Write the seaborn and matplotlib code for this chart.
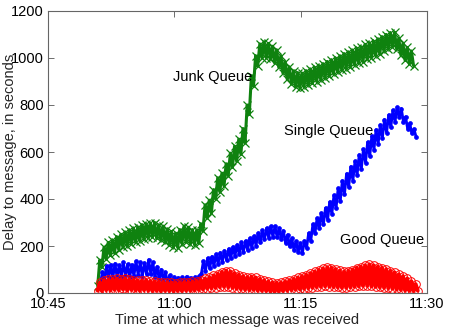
import numpy as np
import matplotlib
matplotlib.use("Agg")
import matplotlib.pyplot as plt
import seaborn as sns

# x in minutes after 10:45
tick_minutes = [0, 15, 30, 45]
tick_labels = ["10:45", "11:00", "11:15", "11:30"]
y_ticks = [0, 200, 400, 600, 800, 1000, 1200]

step = 0.25

junk_start = 5.9
junk_vals = [30, 140, 110, 195, 145, 215, 160, 225, 170, 240, 185, 250, 195, 258, 200, 268,
             210, 275, 215, 282, 222, 290, 228, 295, 235, 298, 238, 300, 232, 290, 225, 285,
             215, 272, 205, 262, 195, 255, 193, 270, 210, 285, 218, 280, 210, 270, 205, 268,
             212, 295, 265, 375, 320, 395, 340, 440, 400, 490, 430, 510, 455, 550, 500, 595,
             535, 625, 560, 655, 590, 700, 640, 800, 760, 925, 880, 1010, 965, 1060, 1000, 1068,
             1002, 1062, 995, 1050, 980, 1035, 960, 1010, 935, 985, 910, 962, 890, 945, 878, 938,
             872, 936, 878, 945, 885, 952, 892, 960, 900, 968, 908, 975, 915, 985, 924, 992,
             932, 1000, 940, 1008, 948, 1018, 955, 1025, 962, 1032, 970, 1042, 978, 1048, 985, 1058,
             995, 1065, 1002, 1072, 1010, 1080, 1018, 1090, 1028, 1100, 1040, 1108, 1048, 1110, 1038, 1085,
             1012, 1062, 990, 1045, 975, 1030, 968]

single_start = 6.2
single_vals = [30, 90, 55, 115, 62, 120, 65, 125, 68, 118, 70, 130, 72, 122, 66, 120,
               72, 135, 78, 130, 70, 128, 80, 142, 82, 130, 68, 112, 58, 100, 52, 88,
               42, 75, 38, 68, 34, 65, 32, 66, 35, 70, 34, 65, 33, 68, 36, 72,
               80, 135, 95, 148, 105, 155, 115, 165, 125, 172, 132, 180, 140, 188, 148, 196,
               158, 205, 166, 215, 175, 222, 183, 232, 192, 242, 202, 255, 215, 266, 228, 276,
               236, 284, 240, 284, 238, 276, 228, 265, 214, 248, 198, 232, 184, 220, 175, 212,
               170, 222, 192, 255, 222, 292, 255, 318, 275, 340, 292, 362, 312, 388, 336, 415,
               360, 445, 392, 478, 420, 508, 450, 538, 478, 560, 502, 588, 528, 612, 555, 642,
               582, 668, 610, 695, 635, 715, 660, 738, 682, 758, 705, 778, 728, 790, 748, 785,
               728, 750, 700, 722, 680, 698, 665]

good_start = 5.9
good_vals = [10, 45, 8, 55, 12, 58, 10, 60, 14, 62, 12, 58, 15, 63, 10, 60,
             13, 57, 11, 55, 9, 54, 12, 56, 10, 52, 8, 50, 10, 48, 7, 47,
             9, 46, 8, 45, 7, 44, 9, 46, 8, 47, 10, 48, 9, 50, 11, 52,
             13, 56, 15, 62, 18, 68, 20, 75, 22, 82, 25, 90, 26, 95, 24, 92,
             22, 85, 18, 78, 16, 72, 14, 68, 12, 70, 14, 66, 10, 60, 9, 55,
             8, 50, 6, 46, 5, 44, 6, 45, 8, 50, 10, 55, 12, 60, 14, 66,
             16, 72, 18, 78, 20, 85, 22, 92, 25, 98, 26, 105, 28, 110, 27, 108,
             25, 102, 24, 96, 22, 92, 22, 95, 24, 100, 26, 108, 28, 112, 30, 118,
             30, 122, 28, 118, 26, 112, 24, 108, 22, 102, 20, 95, 18, 88, 15, 80,
             13, 72, 11, 62, 9, 50, 8, 38, 10]

series_labels = ["Junk Queue", "Single Queue", "Good Queue"]
label_pos = [(14.85, 919), (28.0, 689), (34.68, 225)]

sns.set_style("ticks")
plt.rcParams["font.family"] = ["Liberation Sans", "DejaVu Sans"]
plt.rcParams["font.size"] = 10.5

fig = plt.figure(figsize=(4.5, 3.32), dpi=100)
ax = fig.add_axes([48 / 450, 1 - 293 / 332, (427 - 48) / 450, (293 - 11) / 332])


def times(start, vals):
    return start + step * np.arange(len(vals))


sns.lineplot(x=times(junk_start, junk_vals), y=junk_vals, ax=ax, color="#0f820f",
             lw=2.2, marker="x", markersize=6, markeredgewidth=0.9,
             markeredgecolor="#0f820f", estimator=None, sort=False)
sns.lineplot(x=times(single_start, single_vals), y=single_vals, ax=ax, color="#0000ff",
             lw=2.0, marker="o", markersize=2.8, markeredgewidth=0.5,
             markeredgecolor="#0000ff", estimator=None, sort=False)
sns.lineplot(x=times(good_start, good_vals), y=good_vals, ax=ax, color="#ff0000",
             lw=2.8, marker="o", markersize=5.5, markeredgewidth=0.7,
             markerfacecolor="none", markeredgecolor="#ff0000",
             estimator=None, sort=False)

for lab, (tx, ty) in zip(series_labels, label_pos):
    ax.text(tx, ty, lab, ha="left", va="center", fontsize=10.5, color="black")

ax.set_xlim(0, 45)
ax.set_ylim(0, 1200)
ax.set_xticks(tick_minutes)
ax.set_xticklabels(tick_labels)
ax.set_yticks(y_ticks)
ax.tick_params(direction="in", top=True, right=True, length=4, width=0.6,
               colors="#555555", labelcolor="black", labelsize=10.5, pad=3)
for s in ax.spines.values():
    s.set_visible(True)
    s.set_color("#666666")
    s.set_linewidth(0.8)

ax.set_xlabel("Time at which message was received", fontsize=10.5, labelpad=1)
ax.set_ylabel("Delay to message, in seconds", fontsize=10.5)
ax.yaxis.set_label_coords(-0.082, 0.5)

fig.savefig("out.png", dpi=100)
